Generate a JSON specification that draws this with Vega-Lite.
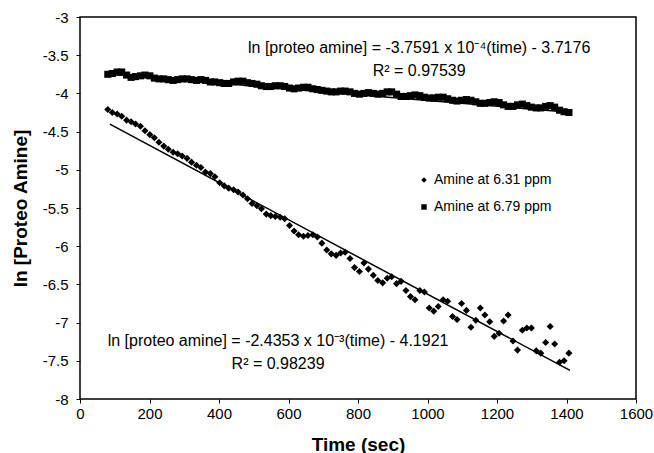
{
  "$schema": "https://vega.github.io/schema/vega-lite/v6.json",
  "width": 556,
  "height": 382,
  "autosize": {"type": "none"},
  "padding": {"left": 80, "top": 17, "right": 18, "bottom": 54},
  "background": "white",
  "config": {
    "font": "Liberation Sans",
    "view": {"stroke": "black", "strokeWidth": 1.5},
    "axis": {"grid": false, "domain": false, "tickColor": "black", "labelColor": "black", "titleColor": "black", "labelFont": "Liberation Sans", "titleFont": "Liberation Sans"}
  },
  "datasets": {
    "pts": [
      {"s":"Amine at 6.79 ppm","t":80,"v":-3.75},
      {"s":"Amine at 6.79 ppm","t":93,"v":-3.74},
      {"s":"Amine at 6.79 ppm","t":107,"v":-3.72},
      {"s":"Amine at 6.79 ppm","t":120,"v":-3.72},
      {"s":"Amine at 6.79 ppm","t":134,"v":-3.76},
      {"s":"Amine at 6.79 ppm","t":147,"v":-3.79},
      {"s":"Amine at 6.79 ppm","t":160,"v":-3.78},
      {"s":"Amine at 6.79 ppm","t":174,"v":-3.77},
      {"s":"Amine at 6.79 ppm","t":187,"v":-3.76},
      {"s":"Amine at 6.79 ppm","t":201,"v":-3.77},
      {"s":"Amine at 6.79 ppm","t":214,"v":-3.80},
      {"s":"Amine at 6.79 ppm","t":227,"v":-3.81},
      {"s":"Amine at 6.79 ppm","t":241,"v":-3.81},
      {"s":"Amine at 6.79 ppm","t":254,"v":-3.82},
      {"s":"Amine at 6.79 ppm","t":268,"v":-3.83},
      {"s":"Amine at 6.79 ppm","t":281,"v":-3.82},
      {"s":"Amine at 6.79 ppm","t":294,"v":-3.81},
      {"s":"Amine at 6.79 ppm","t":308,"v":-3.81},
      {"s":"Amine at 6.79 ppm","t":321,"v":-3.82},
      {"s":"Amine at 6.79 ppm","t":335,"v":-3.83},
      {"s":"Amine at 6.79 ppm","t":348,"v":-3.82},
      {"s":"Amine at 6.79 ppm","t":361,"v":-3.83},
      {"s":"Amine at 6.79 ppm","t":375,"v":-3.85},
      {"s":"Amine at 6.79 ppm","t":388,"v":-3.85},
      {"s":"Amine at 6.79 ppm","t":402,"v":-3.86},
      {"s":"Amine at 6.79 ppm","t":415,"v":-3.87},
      {"s":"Amine at 6.79 ppm","t":428,"v":-3.87},
      {"s":"Amine at 6.79 ppm","t":442,"v":-3.85},
      {"s":"Amine at 6.79 ppm","t":455,"v":-3.84},
      {"s":"Amine at 6.79 ppm","t":469,"v":-3.84},
      {"s":"Amine at 6.79 ppm","t":482,"v":-3.86},
      {"s":"Amine at 6.79 ppm","t":495,"v":-3.87},
      {"s":"Amine at 6.79 ppm","t":509,"v":-3.88},
      {"s":"Amine at 6.79 ppm","t":522,"v":-3.90},
      {"s":"Amine at 6.79 ppm","t":536,"v":-3.91},
      {"s":"Amine at 6.79 ppm","t":549,"v":-3.91},
      {"s":"Amine at 6.79 ppm","t":562,"v":-3.90},
      {"s":"Amine at 6.79 ppm","t":576,"v":-3.90},
      {"s":"Amine at 6.79 ppm","t":589,"v":-3.91},
      {"s":"Amine at 6.79 ppm","t":603,"v":-3.93},
      {"s":"Amine at 6.79 ppm","t":616,"v":-3.94},
      {"s":"Amine at 6.79 ppm","t":629,"v":-3.93},
      {"s":"Amine at 6.79 ppm","t":643,"v":-3.92},
      {"s":"Amine at 6.79 ppm","t":656,"v":-3.92},
      {"s":"Amine at 6.79 ppm","t":670,"v":-3.94},
      {"s":"Amine at 6.79 ppm","t":683,"v":-3.95},
      {"s":"Amine at 6.79 ppm","t":696,"v":-3.96},
      {"s":"Amine at 6.79 ppm","t":710,"v":-3.97},
      {"s":"Amine at 6.79 ppm","t":723,"v":-3.98},
      {"s":"Amine at 6.79 ppm","t":737,"v":-3.98},
      {"s":"Amine at 6.79 ppm","t":750,"v":-3.97},
      {"s":"Amine at 6.79 ppm","t":763,"v":-3.97},
      {"s":"Amine at 6.79 ppm","t":777,"v":-3.98},
      {"s":"Amine at 6.79 ppm","t":790,"v":-4.00},
      {"s":"Amine at 6.79 ppm","t":804,"v":-4.01},
      {"s":"Amine at 6.79 ppm","t":817,"v":-4.00},
      {"s":"Amine at 6.79 ppm","t":830,"v":-3.99},
      {"s":"Amine at 6.79 ppm","t":844,"v":-4.00},
      {"s":"Amine at 6.79 ppm","t":857,"v":-4.01},
      {"s":"Amine at 6.79 ppm","t":871,"v":-4.00},
      {"s":"Amine at 6.79 ppm","t":884,"v":-3.98},
      {"s":"Amine at 6.79 ppm","t":897,"v":-3.98},
      {"s":"Amine at 6.79 ppm","t":911,"v":-4.01},
      {"s":"Amine at 6.79 ppm","t":924,"v":-4.04},
      {"s":"Amine at 6.79 ppm","t":938,"v":-4.04},
      {"s":"Amine at 6.79 ppm","t":951,"v":-4.03},
      {"s":"Amine at 6.79 ppm","t":964,"v":-4.02},
      {"s":"Amine at 6.79 ppm","t":978,"v":-4.03},
      {"s":"Amine at 6.79 ppm","t":991,"v":-4.05},
      {"s":"Amine at 6.79 ppm","t":1005,"v":-4.06},
      {"s":"Amine at 6.79 ppm","t":1018,"v":-4.06},
      {"s":"Amine at 6.79 ppm","t":1031,"v":-4.05},
      {"s":"Amine at 6.79 ppm","t":1045,"v":-4.05},
      {"s":"Amine at 6.79 ppm","t":1058,"v":-4.07},
      {"s":"Amine at 6.79 ppm","t":1072,"v":-4.09},
      {"s":"Amine at 6.79 ppm","t":1085,"v":-4.10},
      {"s":"Amine at 6.79 ppm","t":1098,"v":-4.09},
      {"s":"Amine at 6.79 ppm","t":1112,"v":-4.08},
      {"s":"Amine at 6.79 ppm","t":1125,"v":-4.09},
      {"s":"Amine at 6.79 ppm","t":1139,"v":-4.11},
      {"s":"Amine at 6.79 ppm","t":1152,"v":-4.13},
      {"s":"Amine at 6.79 ppm","t":1165,"v":-4.13},
      {"s":"Amine at 6.79 ppm","t":1179,"v":-4.12},
      {"s":"Amine at 6.79 ppm","t":1192,"v":-4.11},
      {"s":"Amine at 6.79 ppm","t":1206,"v":-4.12},
      {"s":"Amine at 6.79 ppm","t":1219,"v":-4.15},
      {"s":"Amine at 6.79 ppm","t":1232,"v":-4.17},
      {"s":"Amine at 6.79 ppm","t":1246,"v":-4.17},
      {"s":"Amine at 6.79 ppm","t":1259,"v":-4.15},
      {"s":"Amine at 6.79 ppm","t":1273,"v":-4.14},
      {"s":"Amine at 6.79 ppm","t":1286,"v":-4.16},
      {"s":"Amine at 6.79 ppm","t":1299,"v":-4.18},
      {"s":"Amine at 6.79 ppm","t":1313,"v":-4.19},
      {"s":"Amine at 6.79 ppm","t":1326,"v":-4.19},
      {"s":"Amine at 6.79 ppm","t":1340,"v":-4.17},
      {"s":"Amine at 6.79 ppm","t":1353,"v":-4.16},
      {"s":"Amine at 6.79 ppm","t":1366,"v":-4.18},
      {"s":"Amine at 6.79 ppm","t":1380,"v":-4.22},
      {"s":"Amine at 6.79 ppm","t":1393,"v":-4.24},
      {"s":"Amine at 6.79 ppm","t":1407,"v":-4.25},
      {"s":"Amine at 6.31 ppm","t":80,"v":-4.21},
      {"s":"Amine at 6.31 ppm","t":93,"v":-4.25},
      {"s":"Amine at 6.31 ppm","t":107,"v":-4.27},
      {"s":"Amine at 6.31 ppm","t":120,"v":-4.30},
      {"s":"Amine at 6.31 ppm","t":134,"v":-4.35},
      {"s":"Amine at 6.31 ppm","t":147,"v":-4.37},
      {"s":"Amine at 6.31 ppm","t":160,"v":-4.40},
      {"s":"Amine at 6.31 ppm","t":174,"v":-4.43},
      {"s":"Amine at 6.31 ppm","t":187,"v":-4.49},
      {"s":"Amine at 6.31 ppm","t":201,"v":-4.54},
      {"s":"Amine at 6.31 ppm","t":214,"v":-4.58},
      {"s":"Amine at 6.31 ppm","t":227,"v":-4.64},
      {"s":"Amine at 6.31 ppm","t":241,"v":-4.69},
      {"s":"Amine at 6.31 ppm","t":254,"v":-4.73},
      {"s":"Amine at 6.31 ppm","t":268,"v":-4.77},
      {"s":"Amine at 6.31 ppm","t":281,"v":-4.79},
      {"s":"Amine at 6.31 ppm","t":294,"v":-4.82},
      {"s":"Amine at 6.31 ppm","t":308,"v":-4.85},
      {"s":"Amine at 6.31 ppm","t":321,"v":-4.90},
      {"s":"Amine at 6.31 ppm","t":335,"v":-4.94},
      {"s":"Amine at 6.31 ppm","t":348,"v":-4.97},
      {"s":"Amine at 6.31 ppm","t":361,"v":-5.03},
      {"s":"Amine at 6.31 ppm","t":375,"v":-5.05},
      {"s":"Amine at 6.31 ppm","t":388,"v":-5.09},
      {"s":"Amine at 6.31 ppm","t":402,"v":-5.17},
      {"s":"Amine at 6.31 ppm","t":415,"v":-5.21},
      {"s":"Amine at 6.31 ppm","t":428,"v":-5.24},
      {"s":"Amine at 6.31 ppm","t":442,"v":-5.26},
      {"s":"Amine at 6.31 ppm","t":455,"v":-5.29},
      {"s":"Amine at 6.31 ppm","t":469,"v":-5.33},
      {"s":"Amine at 6.31 ppm","t":482,"v":-5.38},
      {"s":"Amine at 6.31 ppm","t":495,"v":-5.44},
      {"s":"Amine at 6.31 ppm","t":509,"v":-5.47},
      {"s":"Amine at 6.31 ppm","t":522,"v":-5.51},
      {"s":"Amine at 6.31 ppm","t":536,"v":-5.58},
      {"s":"Amine at 6.31 ppm","t":549,"v":-5.60},
      {"s":"Amine at 6.31 ppm","t":562,"v":-5.61},
      {"s":"Amine at 6.31 ppm","t":576,"v":-5.62},
      {"s":"Amine at 6.31 ppm","t":589,"v":-5.64},
      {"s":"Amine at 6.31 ppm","t":603,"v":-5.73},
      {"s":"Amine at 6.31 ppm","t":616,"v":-5.80},
      {"s":"Amine at 6.31 ppm","t":629,"v":-5.85},
      {"s":"Amine at 6.31 ppm","t":643,"v":-5.87},
      {"s":"Amine at 6.31 ppm","t":656,"v":-5.86},
      {"s":"Amine at 6.31 ppm","t":670,"v":-5.85},
      {"s":"Amine at 6.31 ppm","t":683,"v":-5.88},
      {"s":"Amine at 6.31 ppm","t":696,"v":-5.96},
      {"s":"Amine at 6.31 ppm","t":710,"v":-6.05},
      {"s":"Amine at 6.31 ppm","t":723,"v":-6.10},
      {"s":"Amine at 6.31 ppm","t":737,"v":-6.12},
      {"s":"Amine at 6.31 ppm","t":750,"v":-6.09},
      {"s":"Amine at 6.31 ppm","t":763,"v":-6.08},
      {"s":"Amine at 6.31 ppm","t":777,"v":-6.16},
      {"s":"Amine at 6.31 ppm","t":790,"v":-6.28},
      {"s":"Amine at 6.31 ppm","t":804,"v":-6.33},
      {"s":"Amine at 6.31 ppm","t":817,"v":-6.22},
      {"s":"Amine at 6.31 ppm","t":830,"v":-6.30},
      {"s":"Amine at 6.31 ppm","t":844,"v":-6.38},
      {"s":"Amine at 6.31 ppm","t":857,"v":-6.45},
      {"s":"Amine at 6.31 ppm","t":871,"v":-6.48},
      {"s":"Amine at 6.31 ppm","t":884,"v":-6.42},
      {"s":"Amine at 6.31 ppm","t":897,"v":-6.40},
      {"s":"Amine at 6.31 ppm","t":911,"v":-6.49},
      {"s":"Amine at 6.31 ppm","t":924,"v":-6.46},
      {"s":"Amine at 6.31 ppm","t":938,"v":-6.58},
      {"s":"Amine at 6.31 ppm","t":951,"v":-6.66},
      {"s":"Amine at 6.31 ppm","t":964,"v":-6.70},
      {"s":"Amine at 6.31 ppm","t":978,"v":-6.58},
      {"s":"Amine at 6.31 ppm","t":991,"v":-6.60},
      {"s":"Amine at 6.31 ppm","t":1005,"v":-6.81},
      {"s":"Amine at 6.31 ppm","t":1018,"v":-6.85},
      {"s":"Amine at 6.31 ppm","t":1031,"v":-6.79},
      {"s":"Amine at 6.31 ppm","t":1045,"v":-6.70},
      {"s":"Amine at 6.31 ppm","t":1058,"v":-6.72},
      {"s":"Amine at 6.31 ppm","t":1072,"v":-6.92},
      {"s":"Amine at 6.31 ppm","t":1085,"v":-6.96},
      {"s":"Amine at 6.31 ppm","t":1098,"v":-6.75},
      {"s":"Amine at 6.31 ppm","t":1112,"v":-6.84},
      {"s":"Amine at 6.31 ppm","t":1125,"v":-7.06},
      {"s":"Amine at 6.31 ppm","t":1139,"v":-6.97},
      {"s":"Amine at 6.31 ppm","t":1152,"v":-6.81},
      {"s":"Amine at 6.31 ppm","t":1165,"v":-6.90},
      {"s":"Amine at 6.31 ppm","t":1179,"v":-6.99},
      {"s":"Amine at 6.31 ppm","t":1192,"v":-7.18},
      {"s":"Amine at 6.31 ppm","t":1206,"v":-7.14},
      {"s":"Amine at 6.31 ppm","t":1219,"v":-6.98},
      {"s":"Amine at 6.31 ppm","t":1232,"v":-6.90},
      {"s":"Amine at 6.31 ppm","t":1246,"v":-7.24},
      {"s":"Amine at 6.31 ppm","t":1259,"v":-7.36},
      {"s":"Amine at 6.31 ppm","t":1273,"v":-7.10},
      {"s":"Amine at 6.31 ppm","t":1286,"v":-7.07},
      {"s":"Amine at 6.31 ppm","t":1299,"v":-7.07},
      {"s":"Amine at 6.31 ppm","t":1313,"v":-7.37},
      {"s":"Amine at 6.31 ppm","t":1326,"v":-7.40},
      {"s":"Amine at 6.31 ppm","t":1340,"v":-7.26},
      {"s":"Amine at 6.31 ppm","t":1353,"v":-7.05},
      {"s":"Amine at 6.31 ppm","t":1366,"v":-7.28},
      {"s":"Amine at 6.31 ppm","t":1380,"v":-7.52},
      {"s":"Amine at 6.31 ppm","t":1393,"v":-7.50},
      {"s":"Amine at 6.31 ppm","t":1407,"v":-7.40}
    ],
    "fits": [
      {"f":"a","t":86,"v":-4.4015},
      {"f":"a","t":1410,"v":-7.626},
      {"f":"b","t":80,"v":-3.7477},
      {"f":"b","t":1410,"v":-4.2476}
    ],
    "notes": [
      {"t":976,"v":-3.406,"label":"ln [proteo amine] = -3.7591 x 10⁻⁴(time) - 3.7176"},
      {"t":976,"v":-3.707,"label":"R² = 0.97539"},
      {"t":570,"v":-7.241,"label":"ln [proteo amine] = -2.4353 x 10⁻³(time) - 4.1921"},
      {"t":570,"v":-7.542,"label":"R² = 0.98239"}
    ]
  },
  "encoding": {
    "x": {
      "field": "t", "type": "quantitative",
      "scale": {"domain": [0, 1600], "nice": false, "zero": false},
      "axis": {
        "values": [0, 200, 400, 600, 800, 1000, 1200, 1400, 1600],
        "labelExpr": "'' + datum.value",
        "labelFontSize": 15, "tickSize": 4, "labelPadding": 3,
        "labelFlush": false, "labelOverlap": false,
        "title": "Time (sec)", "titleFontSize": 19, "titleFontWeight": "bold",
        "titleY": 36, "titleBaseline": "top"
      }
    },
    "y": {
      "field": "v", "type": "quantitative",
      "scale": {"domain": [-8, -3], "nice": false, "zero": false},
      "axis": {
        "values": [-8, -7.5, -7, -6.5, -6, -5.5, -5, -4.5, -4, -3.5, -3],
        "labelExpr": "'' + datum.value",
        "labelFontSize": 15, "tickSize": 4, "labelPadding": 8,
        "labelFlush": false, "labelOverlap": false,
        "title": "ln [Proteo Amine]", "titleFontSize": 19, "titleFontWeight": "bold",
        "titleX": -60, "titleY": 191, "titleAngle": -90, "titleAlign": "center", "titleBaseline": "middle"
      }
    }
  },
  "layer": [
    {
      "data": {"name": "pts"},
      "mark": {"type": "point", "filled": true, "color": "black", "size": 50, "opacity": 1},
      "encoding": {
        "shape": {
          "field": "s", "type": "nominal",
          "scale": {"domain": ["Amine at 6.31 ppm", "Amine at 6.79 ppm"], "range": ["diamond", "square"]},
          "legend": {
            "title": null, "orient": "none", "legendX": 337, "legendY": 156,
            "labelFontSize": 14, "labelFont": "Liberation Sans", "labelColor": "black",
            "symbolSize": 30, "symbolFillColor": "black", "symbolStrokeColor": "black",
            "rowPadding": 13, "labelOffset": 3, "padding": 0
          }
        }
      }
    },
    {
      "data": {"name": "fits"},
      "mark": {"type": "line", "color": "black", "strokeWidth": 1.5},
      "encoding": {"detail": {"field": "f", "type": "nominal"}}
    },
    {
      "data": {"name": "notes"},
      "mark": {"type": "text", "fontSize": 16, "font": "Liberation Sans", "color": "black", "align": "center", "baseline": "middle"},
      "encoding": {"text": {"field": "label", "type": "nominal"}}
    }
  ]
}
